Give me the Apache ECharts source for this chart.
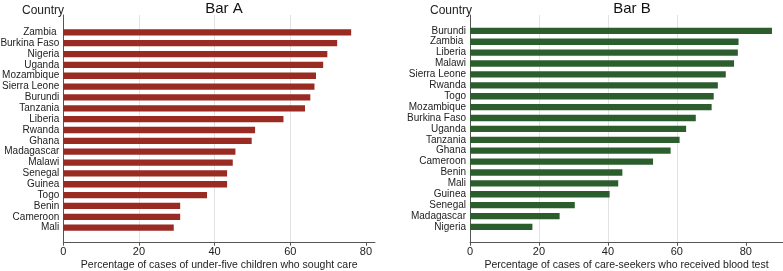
<!DOCTYPE html>
<html>
<head>
<meta charset="utf-8">
<title>Bar A / Bar B</title>
<script src="https://cdn.jsdelivr.net/npm/echarts@6/dist/echarts.min.js"></script>
<style>
  html, body { margin: 0; padding: 0; background: #fff; }
  #chart { width: 783px; height: 271px; }
</style>
</head>
<body>
<div id="chart"></div>
<script>
// Bar A: percentage of cases of under-five children who sought care
var countriesA = ['Zambia ', 'Burkina Faso', 'Nigeria', 'Uganda', 'Mozambique', 'Sierra Leone',
  'Burundi', 'Tanzania', 'Liberia', 'Rwanda', 'Ghana', 'Madagascar', 'Malawi', 'Senegal',
  'Guinea', 'Togo', 'Benin', 'Cameroon', 'Mali'];
var valuesA = [76.1, 72.4, 69.8, 68.7, 66.8, 66.4, 65.3, 63.9, 58.2, 50.7, 49.8, 45.5, 44.8,
  43.3, 43.3, 38.0, 30.9, 30.9, 29.2];

// Bar B: percentage of cases of care-seekers who received blood test
var countriesB = ['Burundi', 'Zambia ', 'Liberia', 'Malawi', 'Sierra Leone', 'Rwanda', 'Togo',
  'Mozambique', 'Burkina Faso', 'Uganda', 'Tanzania', 'Ghana', 'Cameroon', 'Benin', 'Mali',
  'Guinea', 'Senegal', 'Madagascar', 'Nigeria'];
var valuesB = [87.6, 77.9, 77.7, 76.6, 74.2, 71.9, 70.7, 70.1, 65.5, 62.7, 60.8, 58.2, 53.1,
  44.2, 43.0, 40.5, 30.4, 26.0, 18.1];

var xTicks = [0, 20, 40, 60, 80];

var FONT = '"Liberation Sans", Arial, sans-serif';
var maxA = 82.4, maxB = 90.8;

function frameX(idx, max, name) {
  return {
    type: 'value', gridIndex: idx, min: 0, max: max, interval: 20,
    axisLine: { show: true, lineStyle: { color: '#555', width: 1 } },
    axisTick: { show: true, length: 3, customValues: xTicks, lineStyle: { color: '#555' } },
    axisLabel: { customValues: xTicks, color: '#222', fontSize: 11, fontFamily: FONT, margin: 4 },
    splitLine: { show: true, showMinLine: false, showMaxLine: false, lineStyle: { color: '#e3e3e3', width: 1 } },
    name: name, nameLocation: 'middle', nameGap: 17, nameMoveOverlap: false,
    nameTextStyle: { color: '#222', fontSize: 10.5, fontFamily: FONT }
  };
}
function frameY(idx) {
  return {
    type: 'value', gridIndex: idx, min: 0, max: 1,
    axisLine: { show: true, lineStyle: { color: '#555', width: 1 } },
    axisTick: { show: false }, axisLabel: { show: false }, splitLine: { show: false }
  };
}
function barX(idx, max) {
  return { type: 'value', gridIndex: idx, min: 0, max: max, show: false, splitLine: { show: false } };
}
function barY(idx, cats) {
  return {
    type: 'category', gridIndex: idx, data: cats, inverse: true,
    axisLine: { show: false }, axisTick: { show: false },
    axisLabel: { color: '#222', fontSize: 10, fontFamily: FONT, margin: 4, interval: 0 }
  };
}
function grid(left, right, top, bottom) {
  return { left: left, right: right, top: top, bottom: bottom, outerBoundsMode: 'none', containLabel: false };
}

var chart = echarts.init(document.getElementById('chart'), null, { renderer: 'canvas' });
chart.setOption({
  animation: false,
  backgroundColor: '#fff',
  title: [
    { text: 'Bar A', left: 219, top: -4, textAlign: 'center',
      textStyle: { fontSize: 15, fontWeight: 'normal', color: '#111', fontFamily: FONT } },
    { text: 'Bar B', left: 627, top: -4, textAlign: 'center',
      textStyle: { fontSize: 15, fontWeight: 'normal', color: '#111', fontFamily: FONT } },
    { text: 'Country', left: 59, top: 0, textAlign: 'right',
      textStyle: { fontSize: 12, fontWeight: 'normal', color: '#222', fontFamily: FONT } },
    { text: 'Country', left: 467, top: 0, textAlign: 'right',
      textStyle: { fontSize: 12, fontWeight: 'normal', color: '#222', fontFamily: FONT } }
  ],
  grid: [
    grid(63.3, 408, 15, 28.3),
    grid(63.3, 408, 26.9, 37.9),
    grid(470, 0, 15, 28.3),
    grid(470, 0, 25.4, 38.6)
  ],
  xAxis: [
    frameX(0, maxA, 'Percentage of cases of under-five children who sought care'),
    barX(1, maxA),
    frameX(2, maxB, 'Percentage of cases of care-seekers who received blood test'),
    barX(3, maxB)
  ],
  yAxis: [frameY(0), barY(1, countriesA), frameY(2), barY(3, countriesB)],
  series: [
    { type: 'bar', xAxisIndex: 1, yAxisIndex: 1, data: valuesA, barCategoryGap: '42%',
      itemStyle: { color: '#992b22' } },
    { type: 'bar', xAxisIndex: 3, yAxisIndex: 3, data: valuesB, barCategoryGap: '42%',
      itemStyle: { color: '#2c5e2d' } }
  ]
});
</script>
</body>
</html>
